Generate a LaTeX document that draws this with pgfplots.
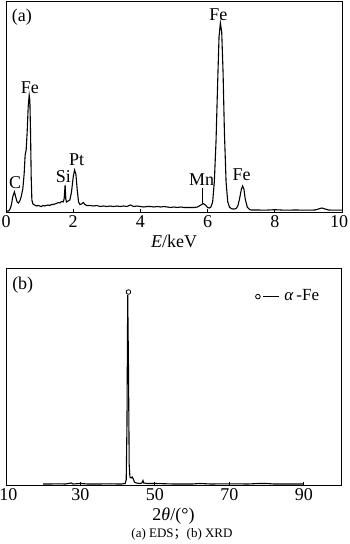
\documentclass[border=0pt]{standalone}
\usepackage{fontspec}
\setmainfont{Liberation Serif}
\newfontfamily\cjk{Noto Sans CJK SC}
\usepackage{pgfplots}
\pgfplotsset{compat=1.18}
\begin{document}
\begin{tikzpicture}[x=1pt,y=1pt]
\useasboundingbox (0,0) rectangle (350,544);
\pgfplotsset{every axis/.append style={
  scale only axis, axis line style={line width=0.9pt},
  ytick=\empty, xtick pos=lower, tick align=inside,
  major tick length=3pt, tick style={line width=0.8pt,black},
  /pgf/number format/assume math mode=true,
  ticklabel style={font=\fontsize{18}{20}\selectfont},
  label style={font=\fontsize{18}{20}\selectfont},
  clip=false}}
% panel (a)
\begin{axis}[at={(6pt,332pt)}, anchor=origin, width=336pt, height=211pt,
  xmin=0, xmax=10, ymin=0, ymax=211, xtick={0,2,...,8},
  extra x ticks={10}, extra x tick style={xticklabel style={xshift=-3pt}},
  xlabel={\textit{E}/keV}]
\addplot[black, line width=1.1pt] coordinates {
(0.02,1)(0.08,1)(0.12,3)(0.16,7)(0.2,15)(0.25,20)(0.29,15)(0.33,10)(0.37,9)(0.41,11)(0.45,15)(0.5,23)(0.54,38)(0.57,57)(0.6,62)(0.63,80)(0.66,105)(0.69,117)(0.71,112)(0.73,80)(0.75,35)(0.77,12)(0.8,8)
(0.85,7)(0.9,6)(0.95,6.5)(1.0,6)(1.05,5.5)(1.1,6.5)(1.15,6)(1.2,6.5)(1.25,7)(1.3,6.5)(1.35,7.5)(1.4,7.5)(1.45,8)(1.5,8.5)(1.55,9.5)(1.6,9)(1.65,10.5)(1.7,10)(1.73,13)(1.76,27)(1.78,13)(1.8,10)(1.85,11)(1.9,12)(1.95,20)(2.0,35)(2.04,42)(2.08,38)(2.12,22)(2.16,10)(2.2,7.5)(2.25,8)(2.3,9.5)(2.35,7.5)(2.4,6.5)
(2.5,6.5)(2.6,6)(2.7,6.5)(2.8,5.5)(2.9,6)(3.0,5.5)(3.1,6)(3.2,5.5)(3.3,6)(3.4,5.5)(3.5,6)(3.6,5.5)(3.7,7)(3.8,5.5)(3.9,6)(4.0,5.5)(4.1,5)(4.2,5.5)(4.3,5.5)(4.4,5)(4.5,5.5)(4.6,5)(4.7,5.5)(4.8,5)(4.9,4.5)(5.0,5)(5.1,4.5)(5.2,5)(5.3,4.5)(5.4,4.5)(5.5,4.5)(5.6,4.5)(5.7,5)(5.8,7)(5.87,8.5)(5.95,6.5)(6.0,4.5)(6.05,4)(6.1,5)(6.15,10)(6.2,30)(6.25,70)(6.3,130)(6.34,175)(6.38,189)(6.42,180)(6.46,140)(6.5,80)(6.55,30)(6.6,10)(6.65,5)(6.7,3.5)(6.75,3)(6.8,3)(6.85,3.5)(6.9,6)(6.95,13)(7.0,22)(7.04,26)(7.08,23)(7.12,13)(7.18,5)(7.25,2.5)(7.3,2)(7.5,2)(7.7,1.8)(8.0,2.3)(8.3,1.8)(8.6,2)(9.0,1.8)(9.2,2)(9.3,3)(9.4,4)(9.5,3)(9.6,2)(9.8,1.8)(10,1.8)};
\addplot[black, line width=0.7pt] coordinates {(5.85,9)(5.85,24)};
\node[font=\fontsize{18}{20}\selectfont] at (axis cs:0.47,195) {(a)};
\node[font=\fontsize{18}{20}\selectfont] at (axis cs:0.27,29) {C};
\node[font=\fontsize{18}{20}\selectfont] at (axis cs:0.71,124) {Fe};
\node[font=\fontsize{18}{20}\selectfont] at (axis cs:1.71,35) {Si};
\node[font=\fontsize{18}{20}\selectfont] at (axis cs:2.1,52) {Pt};
\node[font=\fontsize{18}{20}\selectfont] at (axis cs:5.82,32) {Mn};
\node[font=\fontsize{18}{20}\selectfont] at (axis cs:6.32,197) {Fe};
\node[font=\fontsize{18}{20}\selectfont] at (axis cs:7.01,37) {Fe};
\end{axis}
% panel (b)
\begin{axis}[at={(6pt,59pt)}, anchor=origin, width=335pt, height=217pt,
  xmin=10, xmax=100, ymin=0, ymax=217, xtick={30,50,...,90},
  extra x ticks={10}, extra x tick style={xticklabel style={xshift=2.5pt}},
  xlabel={2\textit{θ}/(°)}]
\addplot[black, line width=1.1pt] coordinates {
(20,1)(22,1)(24,1.2)(26,1)(27.5,2)(28,1)(30,1.5)(32,1)(35,1)(38,1.2)(40,1)(41,1)(42,1.5)(42.3,5)(42.5,60)(42.7,190)(42.9,120)(43.1,20)(43.3,8)(43.6,7)(43.9,8)(44.2,6)(44.5,3)(45,2)(46,1.5)(46.5,2)(46.8,4.5)(47,2)(48,1.5)(50,1.5)(55,1)(60,1)(62,1.5)(65,1)(70,1.2)(75,1)(78,1.5)(80,1.5)(82,1)(85,1)(90,1)};
\addplot[only marks, mark=o, mark size=2.3pt, mark options={line width=0.8pt}] coordinates {(42.9,193)};
\node[font=\fontsize{18}{20}\selectfont] at (axis cs:14.5,200) {(b)};
\node[anchor=west, font=\fontsize{17}{20}\selectfont, inner sep=0pt] at (axis cs:76.9,190)
  {\tikz[baseline=-0.5ex]{\draw[line width=0.8pt] (0,0) circle (2.3pt); \draw[line width=0.9pt] (5.5pt,0)--(21pt,0);}\hspace{5pt}\textit{α}\,-Fe};
\end{axis}
\node[font=\fontsize{13}{15}\selectfont] at (182,10) {(a) EDS{\cjk ；}(b) XRD};
\end{tikzpicture}
\end{document}
